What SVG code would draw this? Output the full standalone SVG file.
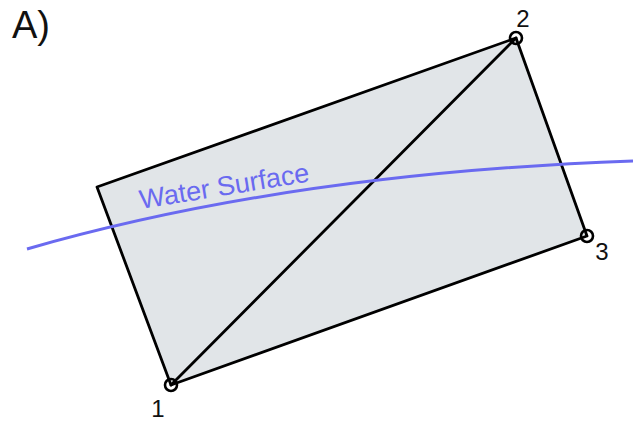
<svg xmlns="http://www.w3.org/2000/svg" width="633" height="423" viewBox="0 0 633 423">
<style>
.lbl{font-family:"Liberation Sans",Arial,sans-serif;fill:#111;}
.edge{stroke:#000;stroke-width:2.8;fill:none;stroke-linecap:round;}
.pt{stroke:#000;stroke-width:2.6;fill:none;}
</style>
<rect width="633" height="423" fill="#fff"/>
<text class="lbl" x="12" y="38" font-size="38">A)</text>
<g id="block">
<polygon points="97,187 516,38 587,236 171,385" fill="#e1e5e8" stroke="#000" stroke-width="2.8" stroke-linejoin="round"/>
</g>
<g id="connectors">
<line class="edge" x1="171" y1="385" x2="516" y2="38"/>
</g>
<g id="water">
<path d="M27,249 C180,205 380,170 633,161" fill="none" stroke="#6a6af0" stroke-width="3"/>
<text x="141" y="209" font-size="27" font-family="Liberation Sans,Arial,sans-serif" fill="#6a6af0" transform="rotate(-9.3 141 209)">Water Surface</text>
</g>
<g id="p1"><circle class="pt" cx="171" cy="385" r="6"/><text class="lbl" x="158" y="417" font-size="24" text-anchor="middle">1</text></g>
<g id="p2"><circle class="pt" cx="516" cy="38" r="6"/><text class="lbl" x="523" y="27" font-size="24" text-anchor="middle">2</text></g>
<g id="p3"><circle class="pt" cx="587" cy="236" r="6"/><text class="lbl" x="602" y="260" font-size="24" text-anchor="middle">3</text></g>
</svg>
